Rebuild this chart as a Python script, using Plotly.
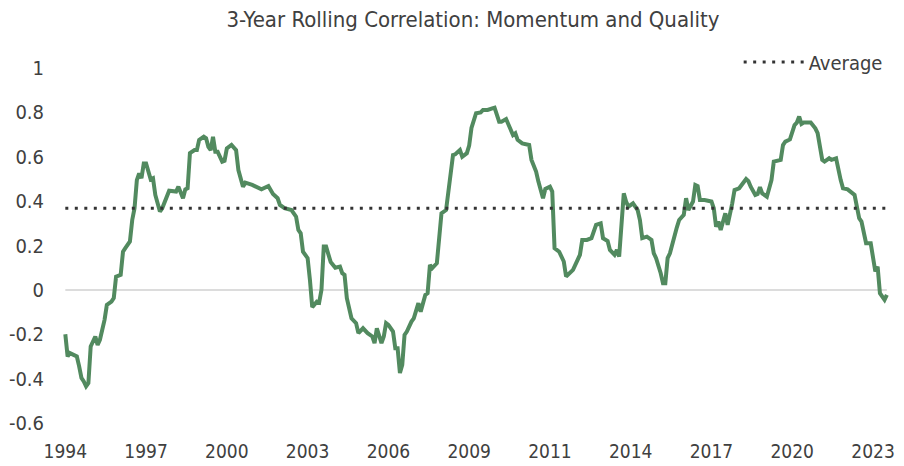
import plotly.graph_objects as go

# Monthly observations (month offset from the first month, June 1994)
month_index = [0, 1, 2, 5, 6, 7, 8, 9, 10, 11, 13, 14, 15, 17, 18, 20, 21, 22, 24, 25, 26, 28, 29, 30,
               31, 32, 33, 34, 35, 36, 37, 38, 39, 41, 42, 45, 48, 49, 51, 52, 53, 54, 56, 57, 58, 60,
               61, 62, 63, 64, 65, 66, 68, 69, 70, 72, 73, 74, 75, 77, 78, 81, 85, 86, 88, 90, 92, 93,
               95, 98, 100, 101, 102, 103, 105, 106, 107, 109, 110, 111, 112, 113, 115, 117, 119, 120,
               121, 122, 124, 126, 127, 129, 131, 133, 134, 135, 137, 138, 139, 140, 142, 143, 144, 145,
               146, 147, 148, 150, 151, 153, 154, 156, 157, 158, 159, 161, 162, 163, 165, 167, 168, 169,
               171, 172, 174, 175, 176, 178, 180, 181, 183, 185, 186, 188, 189, 191, 192, 194, 195, 196,
               198, 201, 202, 204, 205, 207, 208, 210, 211, 212, 214, 216, 217, 219, 220, 222, 223, 224,
               226, 228, 230, 232, 233, 235, 236, 238, 239, 240, 242, 243, 244, 246, 248, 249, 250, 252,
               254, 255, 256, 258, 259, 260, 261, 262, 263, 265, 266, 268, 269, 270, 272, 273, 274, 275,
               277, 280, 281, 282, 283, 284, 286, 287, 289, 290, 292, 294, 295, 296, 297, 299, 300, 301,
               302, 304, 306, 307, 310, 311, 312, 314, 316, 317, 318, 319, 320, 323, 325, 326, 328, 329,
               331, 332, 334, 336, 337, 339, 341, 342, 344, 345, 347, 349, 351, 352, 353, 355, 356]

correlation = [-0.20, -0.30, -0.285, -0.30, -0.345, -0.397, -0.413, -0.435, -0.42, -0.255, -0.21, -0.248,
               -0.225, -0.135, -0.068, -0.053, -0.037, 0.06, 0.068, 0.172, 0.188, 0.218, 0.315, 0.368,
               0.495, 0.525, 0.503, 0.57, 0.57, 0.54, 0.498, 0.503, 0.428, 0.353, 0.368, 0.447, 0.443,
               0.465, 0.413, 0.453, 0.458, 0.616, 0.63, 0.63, 0.676, 0.69, 0.683, 0.645, 0.63, 0.69,
               0.623, 0.623, 0.578, 0.582, 0.638, 0.653, 0.638, 0.63, 0.54, 0.465, 0.483, 0.473, 0.453,
               0.458, 0.468, 0.432, 0.413, 0.383, 0.368, 0.36, 0.33, 0.27, 0.255, 0.172, 0.143, 0.045,
               -0.078, -0.053, -0.057, 0.0, 0.195, 0.195, 0.125, 0.10, 0.105, 0.075, 0.068, -0.037,
               -0.128, -0.15, -0.195, -0.173, -0.195, -0.21, -0.24, -0.173, -0.24, -0.21, -0.15, -0.158,
               -0.188, -0.263, -0.263, -0.375, -0.338, -0.203, -0.188, -0.143, -0.128, -0.06, -0.098,
               -0.023, -0.015, 0.113, 0.098, 0.12, 0.218, 0.345, 0.36, 0.518, 0.608, 0.611, 0.63, 0.60,
               0.616, 0.65, 0.73, 0.796, 0.80, 0.811, 0.811, 0.818, 0.821, 0.758, 0.758, 0.77, 0.743,
               0.698, 0.706, 0.676, 0.66, 0.653, 0.586, 0.533, 0.488, 0.413, 0.455, 0.465, 0.443, 0.188,
               0.172, 0.128, 0.06, 0.083, 0.09, 0.135, 0.158, 0.225, 0.225, 0.233, 0.293, 0.30, 0.233,
               0.22, 0.18, 0.158, 0.18, 0.15, 0.435, 0.398, 0.375, 0.39, 0.36, 0.315, 0.233, 0.24, 0.225,
               0.165, 0.143, 0.075, 0.03, 0.03, 0.143, 0.165, 0.21, 0.282, 0.315, 0.338, 0.413, 0.36,
               0.398, 0.473, 0.468, 0.405, 0.405, 0.398, 0.368, 0.285, 0.308, 0.27, 0.345, 0.293, 0.39,
               0.45, 0.458, 0.488, 0.50, 0.49, 0.465, 0.428, 0.432, 0.463, 0.435, 0.42, 0.495, 0.578,
               0.586, 0.653, 0.668, 0.678, 0.743, 0.754, 0.781, 0.748, 0.754, 0.754, 0.728, 0.706,
               0.586, 0.578, 0.593, 0.586, 0.593, 0.495, 0.458, 0.453, 0.435, 0.428, 0.323, 0.308,
               0.21, 0.21, 0.083, 0.105, -0.015, -0.045, -0.023]

average_value = 0.368

x_tick_positions = [0, 35, 70, 105, 140, 175, 210, 245, 280, 315, 350]
x_tick_labels = ["1994", "1997", "2000", "2003", "2006", "2009", "2011", "2014", "2017", "2020", "2023"]
y_tick_values = [1, 0.8, 0.6, 0.4, 0.2, 0, -0.2, -0.4, -0.6]
y_tick_labels = ["1", "0.8", "0.6", "0.4", "0.2", "0", "-0.2", "-0.4", "-0.6"]

FONT = "Liberation Sans Narrow, DejaVu Sans Condensed, Arial Narrow, sans-serif"
TEXT = "#404040"

fig = go.Figure()

fig.add_trace(go.Scatter(
    x=[month_index[0], month_index[-1]], y=[0, 0], mode="lines",
    line=dict(color="#d0d0d0", width=1.5), showlegend=False, hoverinfo="skip"))

fig.add_trace(go.Scatter(
    x=month_index, y=correlation, mode="lines", name="Correlation",
    line=dict(color="#528a5f", width=4), showlegend=False))

fig.add_trace(go.Scatter(
    x=[month_index[0], month_index[-1]], y=[average_value, average_value], mode="lines",
    name="Average", line=dict(color="#333333", width=3, dash="3px,6.5px")))

fig.update_layout(
    width=888, height=458,
    margin=dict(l=54.7, r=0, t=60, b=43, autoexpand=False),
    paper_bgcolor="white", plot_bgcolor="white",
    font=dict(family=FONT, size=20, color=TEXT),
    title=dict(text="3-Year Rolling Correlation: Momentum and Quality",
               x=0.5236, xanchor="center", y=0.976, yanchor="middle",
               font=dict(family=FONT, size=22, color=TEXT)),
    legend=dict(x=0.99, xanchor="right", y=1.017, yanchor="middle",
                bgcolor="rgba(0,0,0,0)",
                font=dict(family=FONT, size=20, color=TEXT), itemwidth=60),
    showlegend=True,
)

fig.update_xaxes(range=[-1, 359.96], tickmode="array", tickvals=x_tick_positions,
                 ticktext=x_tick_labels, showgrid=False, zeroline=False, showline=False,
                 ticks="", ticklabelstandoff=15, ticklabeloverflow="allow",
                 tickfont=dict(size=19, color=TEXT))
fig.update_yaxes(range=[-0.6, 1.0], tickmode="array", tickvals=y_tick_values,
                 ticktext=y_tick_labels, showgrid=False, zeroline=False, showline=False,
                 ticks="", ticklabelstandoff=18, tickfont=dict(size=20, color=TEXT))

fig.write_html("out.html")
